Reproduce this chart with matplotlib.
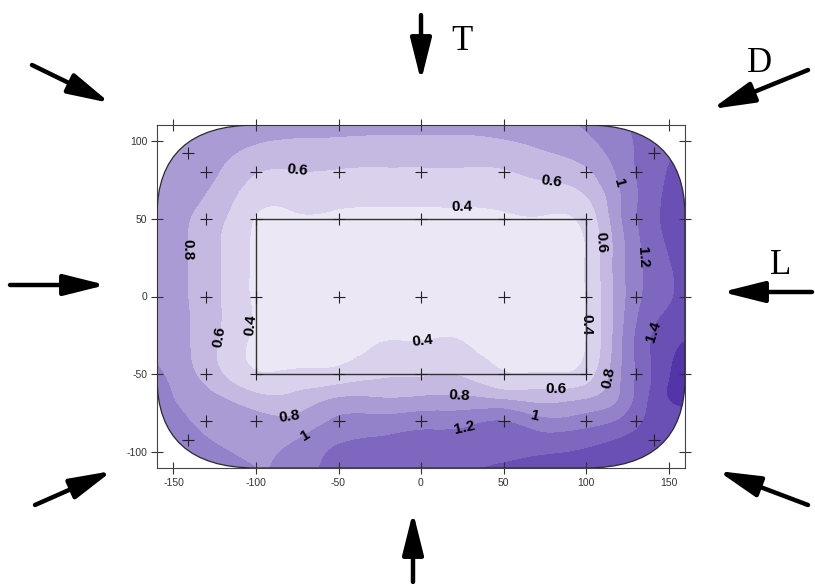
import numpy as np
import matplotlib
matplotlib.use("Agg")
import matplotlib.pyplot as plt
import matplotlib.tri as mtri
from matplotlib.patches import FancyBboxPatch, Rectangle, FancyArrowPatch

plt.rcParams['font.family'] = ['Liberation Sans', 'DejaVu Sans']
plt.rcParams['axes.unicode_minus'] = False

# grid nodes of the mapped field
x_nodes = [-160, -140, -120, -100, -75, -50, -25, 0, 25, 50, 75, 100, 120, 140, 160]
y_nodes = [110, 95, 80, 65, 50, 25, 0, -25, -50, -65, -80, -95, -110]

z_rows = [
    [0.97, 0.95, 0.92, 0.90, 0.87, 0.86, 0.85, 0.85, 0.85, 0.87, 0.92, 1.02, 1.15, 1.30, 1.40],
    [0.95, 0.92, 0.86, 0.77, 0.74, 0.73, 0.72, 0.72, 0.72, 0.74, 0.81, 0.92, 1.10, 1.30, 1.42],
    [0.93, 0.88, 0.78, 0.61, 0.59, 0.58, 0.57, 0.57, 0.57, 0.58, 0.66, 0.76, 1.04, 1.32, 1.48],
    [0.92, 0.84, 0.70, 0.48, 0.47, 0.46, 0.45, 0.45, 0.45, 0.46, 0.50, 0.60, 0.97, 1.32, 1.54],
    [0.91, 0.80, 0.62, 0.39, 0.38, 0.37, 0.36, 0.36, 0.36, 0.37, 0.38, 0.47, 0.95, 1.33, 1.59],
    [0.90, 0.79, 0.58, 0.37, 0.32, 0.31, 0.30, 0.30, 0.30, 0.30, 0.31, 0.41, 0.90, 1.28, 1.49],
    [0.90, 0.79, 0.58, 0.37, 0.31, 0.30, 0.29, 0.29, 0.29, 0.29, 0.30, 0.40, 0.89, 1.28, 1.45],
    [0.93, 0.80, 0.57, 0.37, 0.32, 0.32, 0.385, 0.385, 0.385, 0.31, 0.31, 0.40, 0.92, 1.40, 1.57],
    [1.04, 0.84, 0.60, 0.42, 0.44, 0.47, 0.56, 0.58, 0.58, 0.42, 0.42, 0.50, 0.96, 1.40, 1.75],
    [1.08, 0.93, 0.80, 0.66, 0.66, 0.80, 0.80, 0.82, 0.83, 0.76, 0.72, 0.78, 1.00, 1.44, 1.68],
    [1.10, 1.00, 0.92, 0.87, 0.86, 1.04, 1.07, 1.11, 1.13, 1.20, 1.05, 1.10, 1.22, 1.46, 1.52],
    [1.12, 1.05, 0.99, 0.95, 1.03, 1.20, 1.25, 1.30, 1.30, 1.33, 1.32, 1.37, 1.44, 1.50, 1.50],
    [1.13, 1.08, 1.05, 1.00, 1.08, 1.30, 1.35, 1.37, 1.38, 1.42, 1.46, 1.50, 1.55, 1.55, 1.50],
]

levels = [0.4, 0.6, 0.8, 1.0, 1.2, 1.4, 1.6]
band_colors = ['#ebe7f5', '#dad2ec', '#c5b9e1', '#aa9bd4', '#9381c9', '#7e67be',
               '#6a4fb4', '#5434a9']

# measurement points (+)
pts_x = [-141, 141,
         -130, -100, -50, 0, 50, 100, 130,
         -130, -100, -50, 0, 50, 100, 130,
         -130, -100, -50, 0, 50, 100, 130,
         -130, -100, -50, 0, 50, 100, 130,
         -130, -100, -50, 0, 50, 100, 130,
         -141, 141]
pts_y = [92, 92,
         80, 80, 80, 80, 80, 80, 80,
         50, 50, 50, 50, 50, 50, 50,
         0, 0, 0, 0, 0, 0, 0,
         -50, -50, -50, -50, -50, -50, -50,
         -80, -80, -80, -80, -80, -80, -80,
         -92, -92]

# inner rectangle
rect_x = [-100, 100]
rect_y = [-50, 50]

# contour labels: level -> approximate label spots
label_spots = {
    0.4: [(25, 56), (1, -29), (-103, -18), (99, -18)],
    0.6: [(-75, 78), (79, 75), (-122, -26), (109, 35), (82, -60)],
    0.8: [(-143, 30), (23, -64), (110, -51), (-80, -77)],
    1.0: [(118, 72), (69, -77), (-69, -91)],
    1.2: [(131, 25), (27, -87)],
    1.4: [(140, -22)],
}

xlim = (-160, 160)
ylim = (-110, 110)

W, H = 815, 584
fig = plt.figure(figsize=(W / 100, H / 100), dpi=100)
ax = fig.add_axes([157 / W, 1 - 468 / H, 528 / W, 343 / H])

X, Y = np.meshgrid(x_nodes, y_nodes)
Z = np.array(z_rows)
tri = mtri.Triangulation(X.ravel(), Y.ravel())
refiner = mtri.UniformTriRefiner(tri)
tri_f, z_f = refiner.refine_field(Z.ravel(), subdiv=3)

outline = FancyBboxPatch((xlim[0], ylim[0]), xlim[1] - xlim[0], ylim[1] - ylim[0],
                         boxstyle="round,pad=0,rounding_size=60",
                         mutation_aspect=58 / 60,
                         facecolor='none', edgecolor='#2a2a2a', lw=0.9, zorder=3)
ax.add_patch(outline)

cf = ax.tricontourf(tri_f, z_f, levels=[-1] + levels + [5], colors=band_colors, zorder=1)
cf.set_clip_path(outline)

for lev, spots in label_spots.items():
    cs = ax.tricontour(tri_f, z_f, levels=[lev], colors='k', linewidths=0)
    ax.clabel(cs, manual=spots, inline=False, fmt=lambda v: f"{v:g}",
              colors='k', fontsize=11)
    for t in cs.labelTexts:
        t.set_fontweight('bold')

ax.add_patch(Rectangle((rect_x[0], rect_y[0]), rect_x[1] - rect_x[0], rect_y[1] - rect_y[0],
                       facecolor='none', edgecolor='#333333', lw=1.0, zorder=4))
ax.plot(pts_x, pts_y, linestyle='none', marker='+', ms=8, mew=0.8, color='#222222', zorder=5)

ax.set_xlim(*xlim)
ax.set_ylim(*ylim)
ax.set_xticks([-150, -100, -50, 0, 50, 100, 150])
ax.set_yticks([-100, -50, 0, 50, 100])
ax.tick_params(direction='inout', length=8, width=0.8, colors='#333333',
               labelsize=7.5, top=True, right=True, pad=3)
for s in ax.spines.values():
    s.set_color('#444444')
    s.set_linewidth(0.8)

# direction arrows and letters around the plot (pixel layout)
arrows = [((421, 15), (421, 81)),
          ((32, 65), (110, 103)),
          ((808, 70), (712, 109)),
          ((10, 285), (106, 285)),
          ((812, 292), (722, 292)),
          ((35, 505), (112, 471)),
          ((808, 505), (718, 471)),
          ((413, 582), (413, 512))]
for (x0, y0), (x1, y1) in arrows:
    fig.add_artist(FancyArrowPatch((x0 / W, 1 - y0 / H), (x1 / W, 1 - y1 / H),
                                   transform=fig.transFigure,
                                   arrowstyle='-|>,head_length=1.6,head_width=0.4',
                                   mutation_scale=16, lw=3.2, color='k',
                                   shrinkA=0, shrinkB=0))

letters = [("T", 462, 42), ("D", 760, 64), ("L", 781, 266)]
for txt, px, py in letters:
    fig.text(px / W, 1 - py / H, txt, ha='center', va='center', fontsize=25,
             family=['Liberation Serif', 'DejaVu Serif'])

fig.savefig("out.png", dpi=100)
